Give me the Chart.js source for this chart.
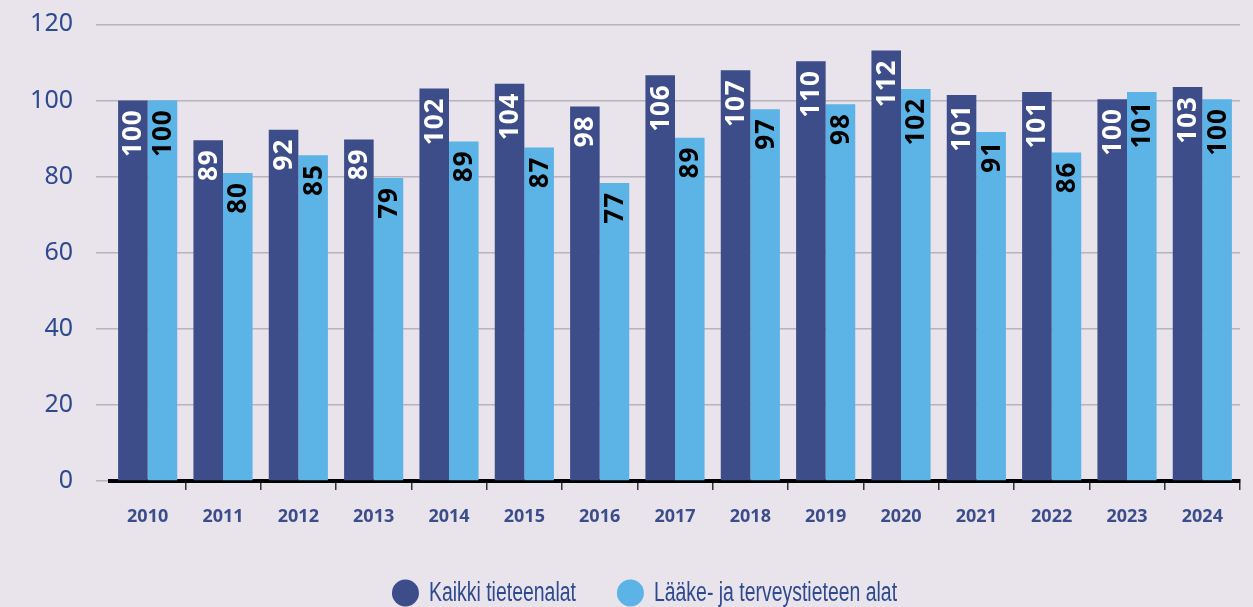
<!DOCTYPE html>
<html>
<head>
<meta charset="utf-8">
<script src="https://cdn.jsdelivr.net/npm/chart.js@4"></script>
<style>
  html, body { margin: 0; padding: 0; background: #e9e3eb; }
  .wrap { width: 1253px; height: 607px; position: relative; }
</style>
</head>
<body>
<div class="wrap"><canvas class="chart"></canvas></div>
<script>
const YEARS = ['2010', '2011', '2012', '2013', '2014', '2015', '2016', '2017', '2018', '2019', '2020', '2021', '2022', '2023', '2024'];

// bar heights
const KAIKKI = [100, 89.5, 92.3, 89.7, 103.1, 104.4, 98.4, 106.6, 107.9, 110.3, 113.1, 101.4, 102.2, 100.3, 103.5];
const LAAKE = [100, 80.9, 85.6, 79.6, 89.2, 87.6, 78.3, 90.2, 97.7, 99.0, 103.0, 91.7, 86.3, 102.2, 100.3];

// numbers printed inside the bars
const KAIKKI_LABELS = ['100', '89', '92', '89', '102', '104', '98', '106', '107', '110', '112', '101', '101', '100', '103'];
const LAAKE_LABELS = ['100', '80', '85', '79', '89', '87', '77', '89', '97', '98', '102', '91', '86', '101', '100'];

const Y_TICKS = [0, 20, 40, 60, 80, 100, 120];

const BLUE_TEXT = '#2d4a8e';

const barLabels = {
  id: 'barLabels',
  afterDatasetsDraw(chart) {
    const ctx = chart.ctx;
    const texts = [KAIKKI_LABELS, LAAKE_LABELS];
    const colors = ['#ffffff', '#000000'];
    chart.data.datasets.forEach((ds, di) => {
      chart.getDatasetMeta(di).data.forEach((bar, i) => {
        ctx.save();
        ctx.translate(bar.x + 1, bar.y + 9);
        ctx.rotate(-Math.PI / 2);
        ctx.font = 'bold 26px "Noto Sans"';
        ctx.letterSpacing = '1px';
        ctx.fillStyle = colors[di];
        ctx.textAlign = 'right';
        ctx.textBaseline = 'middle';
        ctx.fillText(texts[di][i], 0, 0);
        ctx.restore();
      });
    });
  }
};

// condensed legend drawn by hand (no narrow font installed)
const narrowLegend = {
  id: 'narrowLegend',
  afterDraw(chart) {
    const ctx = chart.ctx;
    const squeeze = 0.72;
    const y = 593;
    ctx.save();
    ctx.font = '27px "Liberation Sans"';
    const items = chart.data.datasets.map(ds => ({
      text: ds.label,
      color: ds.backgroundColor,
      w: 27 + 10 + ctx.measureText(ds.label).width * squeeze
    }));
    const gap = 41;
    const total = items.reduce((s, it) => s + it.w, 0) + gap * (items.length - 1);
    let x = chart.width / 2 + 18 - total / 2;
    items.forEach(it => {
      ctx.fillStyle = it.color;
      ctx.beginPath();
      ctx.arc(x + 13.5, y, 13.5, 0, Math.PI * 2);
      ctx.fill();
      ctx.save();
      ctx.translate(x + 37, y);
      ctx.scale(squeeze, 1);
      ctx.fillStyle = BLUE_TEXT;
      ctx.textAlign = 'left';
      ctx.textBaseline = 'middle';
      ctx.fillText(it.text, 0, 1);
      ctx.restore();
      x += it.w + gap;
    });
    ctx.restore();
  }
};

const CHART = new Chart(document.querySelector('.chart'), {
  type: 'bar',
  data: {
    labels: YEARS,
    datasets: [{
      label: 'Kaikki tieteenalat',
      data: KAIKKI,
      backgroundColor: '#3c4d89',
      categoryPercentage: 0.785,
      barPercentage: 1
    }, {
      label: 'Lääke- ja terveystieteen alat',
      data: LAAKE,
      backgroundColor: '#5bb3e6',
      categoryPercentage: 0.785,
      barPercentage: 1
    }]
  },
  options: {
    responsive: true,
    maintainAspectRatio: false,
    animation: false,
    layout: {
      padding: { top: 8, right: 13, left: 30, bottom: 67 }
    },
    plugins: {
      tooltip: { enabled: false },
      legend: { display: false }
    },
    scales: {
      x: {
        grid: {
          offset: true,
          drawOnChartArea: false,
          tickLength: 9,
          lineWidth: 1.5,
          tickColor: (c) => (c.index === 0 || c.index === YEARS.length) ? 'rgba(0,0,0,0)' : '#333333'
        },
        border: { display: true, color: '#000000', width: 4 },
        ticks: {
          color: '#3b4d8b',
          padding: 16,
          font: { family: '"Noto Sans"', size: 18, weight: 'bold' }
        },
        afterFit(scale) { scale.height = 59; }
      },
      y: {
        min: 0,
        max: 120,
        afterBuildTicks(scale) { scale.ticks = Y_TICKS.map(v => ({ value: v })); },
        grid: {
          color: '#b8b4bb',
          lineWidth: 1.5,
          tickLength: 14,
          tickColor: '#b8b4bb'
        },
        border: { display: false },
        ticks: {
          color: BLUE_TEXT,
          padding: 23,
          font: { family: '"Noto Sans"', size: 25, lineHeight: 0.1 }
        },
        afterFit(scale) { scale.width = 80; }
      }
    }
  },
  plugins: [barLabels, narrowLegend]
});
</script>
</body>
</html>
